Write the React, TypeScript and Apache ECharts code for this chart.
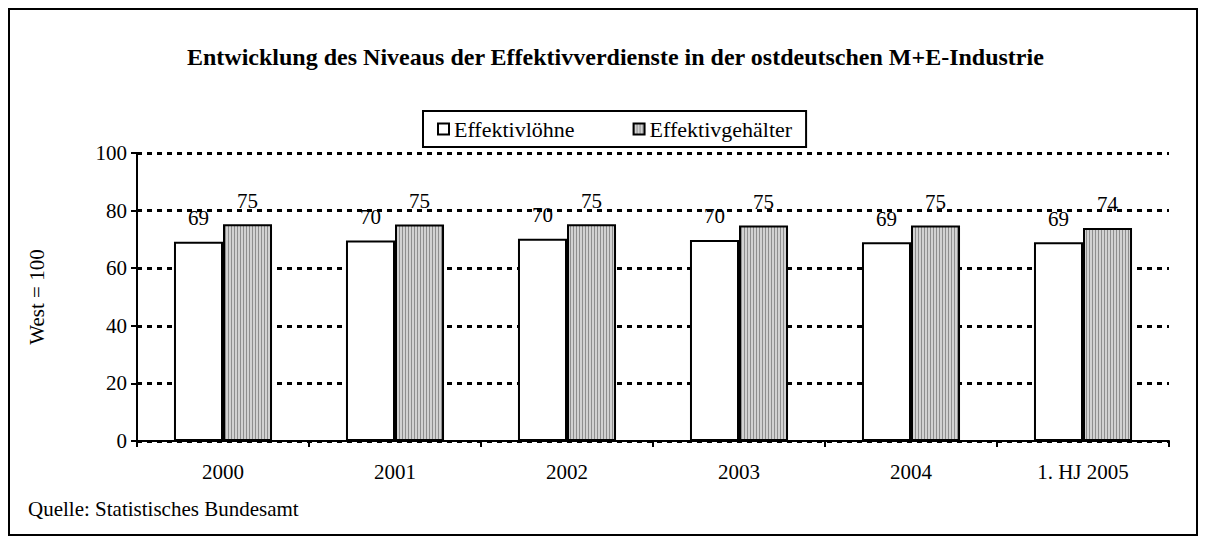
import React, { useEffect, useRef } from "react";
import * as echarts from "echarts";

const categories = ["2000", "2001", "2002", "2003", "2004", "1. HJ 2005"];
const loehne = [69.2, 69.6, 70.2, 69.8, 69.0, 69.0];
const gehaelter = [75.3, 75.2, 75.3, 74.8, 74.8, 74.0];
const yTicks = { min: 0, max: 100, interval: 20 };
const titleText = "Entwicklung des Niveaus der Effektivverdienste in der ostdeutschen M+E-Industrie";
const seriesNames = ["Effektivlöhne", "Effektivgehälter"];
const yName = "West = 100";
const sourceText = "Quelle: Statistisches Bundesamt";

const FONT = "'Liberation Serif', 'Times New Roman', serif";

function makeStripes(): HTMLCanvasElement {
  const c = document.createElement("canvas");
  c.width = 3;
  c.height = 4;
  const ctx = c.getContext("2d")!;
  ctx.fillStyle = "#d2d2d2";
  ctx.fillRect(0, 0, 3, 4);
  ctx.fillStyle = "#8e8e8e";
  ctx.fillRect(0, 0, 1, 4);
  return c;
}

export default function App() {
  const ref = useRef<HTMLDivElement>(null);
  useEffect(() => {
    if (!ref.current) return;
    const chart = echarts.init(ref.current, undefined, { renderer: "svg" });
    const stripes = makeStripes();
    const labelCfg = {
      show: true,
      position: "top" as const,
      distance: 13,
      color: "#000",
      fontSize: 21,
      fontFamily: FONT,
      formatter: (p: any) => String(Math.round(p.value)),
    };
    chart.setOption({
      animation: false,
      backgroundColor: "#fff",
      title: {
        text: titleText,
        left: 182,
        top: 40,
        textStyle: { fontFamily: FONT, fontWeight: "bold", fontSize: 24, color: "#000" },
      },
      legend: {
        left: 423,
        top: 111,
        padding: [7, 14],
        itemGap: 58,
        itemWidth: 11,
        itemHeight: 11,
        borderColor: "#000",
        borderWidth: 2,
        icon: "rect",
        textStyle: { fontFamily: FONT, fontSize: 22, color: "#000" },
        data: seriesNames,
      },
      grid: { left: 137, right: 37, top: 153, bottom: 103, containLabel: false },
      xAxis: {
        type: "category",
        data: categories,
        axisLine: { lineStyle: { color: "#000", width: 2 } },
        axisTick: { show: true, length: 6, lineStyle: { color: "#000", width: 2 } },
        axisLabel: { color: "#000", fontSize: 21, fontFamily: FONT, margin: 20 },
      },
      yAxis: {
        type: "value",
        min: yTicks.min,
        max: yTicks.max,
        interval: yTicks.interval,
        name: yName,
        nameLocation: "middle",
        nameRotate: 90,
        nameGap: 90,
        nameTextStyle: { color: "#000", fontSize: 21, fontFamily: FONT },
        axisLine: { show: true, lineStyle: { color: "#000", width: 2 } },
        axisTick: { show: true, length: 6, lineStyle: { color: "#000", width: 2 } },
        axisLabel: { color: "#000", fontSize: 21, fontFamily: FONT, margin: 10 },
        splitLine: { show: true, lineStyle: { color: "#000", width: 3, type: [5, 5] } },
      },
      series: [
        {
          name: seriesNames[0],
          type: "bar",
          data: loehne,
          barGap: "0%",
          barCategoryGap: "43%",
          itemStyle: { color: "#fff", borderColor: "#000", borderWidth: 2 },
          label: labelCfg,
        },
        {
          name: seriesNames[1],
          type: "bar",
          data: gehaelter,
          itemStyle: {
            color: { image: stripes, repeat: "repeat" },
            borderColor: "#000",
            borderWidth: 2,
          },
          label: labelCfg,
        },
      ],
      graphic: [
        {
          type: "rect",
          shape: { x: 9, y: 9, width: 1188, height: 526 },
          style: { fill: "none", stroke: "#000", lineWidth: 2 },
          silent: true,
        },
        {
          type: "text",
          left: 28,
          top: 498,
          style: { text: sourceText, fill: "#000", fontSize: 21, fontFamily: FONT },
        },
      ],
    });
    return () => chart.dispose();
  }, []);
  return (
    <div
      ref={ref}
      style={{ position: "absolute", left: 0, top: 0, width: 1206, height: 544 }}
    />
  );
}
